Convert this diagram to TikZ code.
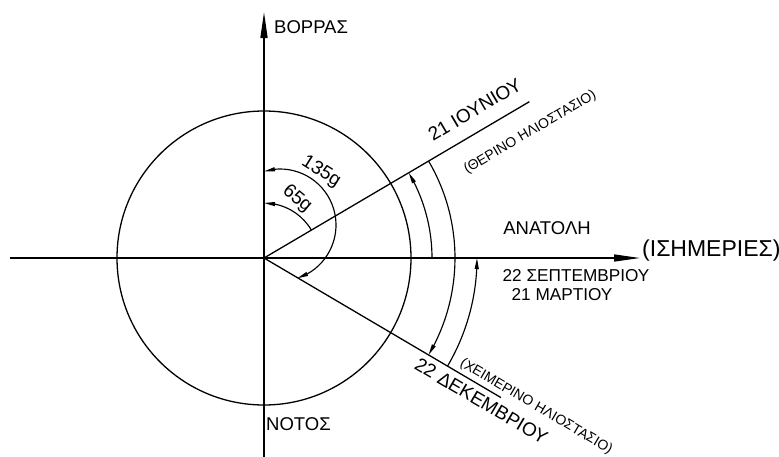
\documentclass[tikz,border=0pt]{standalone}
\usepackage{fontspec}
\setmainfont{Liberation Sans}
\usetikzlibrary{arrows.meta,bending,calc}
\begin{document}
\begin{tikzpicture}[x=1pt,y=1pt,
  ln/.style={line width=1.3pt},
  axisline/.style={line width=1.3pt,-{Triangle[length=26pt,width=7pt]}},
  dimarc/.style={line width=1.15pt},
  >={Triangle[length=11pt,width=4pt]},
  lbl/.style={inner sep=0pt,font=\fontsize{18.5}{20}\selectfont},
  lblbig/.style={inner sep=0pt,font=\fontsize{23}{25}\selectfont},
  lblmid/.style={inner sep=0pt,font=\fontsize{17.2}{19}\selectfont},
  lblang/.style={inner sep=0pt,font=\fontsize{19}{21}\selectfont},
  lblsmall/.style={inner sep=0pt,font=\fontsize{14}{16}\selectfont}]
\useasboundingbox (0,0) rectangle (779,-456);
% key points
\coordinate (O) at (264,-258);
\coordinate (W) at (10,-258);
\coordinate (E) at (640,-258);
\coordinate (S) at (264,-460);
\coordinate (N) at (264,-12);
\coordinate (SU) at ($(O)+(30.5:308)$);
\coordinate (WI) at ($(O)+(-30.5:275)$);
\coordinate (C2) at (280,-225);
% axes
\draw[axisline] (W) -- (E);
\draw[axisline] (S) -- (N);
% circle
\draw[ln] (O) circle[radius=147];
% solstice lines
\draw[ln] (O) -- (SU);
\draw[ln] (O) -- (WI);
% dimension arcs on the right
\draw[dimarc,->] ($(O)+(0:168)$) arc[start angle=0,end angle=30.5,radius=168];
\draw[dimarc,->] ($(O)+(30.5:191)$) arc[start angle=30.5,end angle=-30.5,radius=191];
\draw[dimarc,->] ($(O)+(-30.5:213)$) arc[start angle=-30.5,end angle=0,radius=213];
% angle arcs near centre
\draw[dimarc,->] ($(O)+(30.5:55)$) arc[start angle=30.5,end angle=90,radius=55];
\draw[dimarc,<->] ($(C2)+(106.6:56)$) arc[start angle=106.6,end angle=-72.1,radius=56];
% labels
\node[lbl,anchor=west] (north) at (274,-27) {ΒΟΡΡΑΣ};
\node[lbl,anchor=west] (south) at (266,-424) {ΝΟΤΟΣ};
\node[lbl] (east) at (547,-228) {ΑΝΑΤΟΛΗ};
\node[lblbig,anchor=west] (equi) at (642,-251) {(ΙΣΗΜΕΡΙΕΣ)};
\node[lblmid] (sept) at (576,-276) {22 ΣΕΠΤΕΜΒΡΙΟΥ};
\node[lblmid] (mar) at (562,-295) {21 ΜΑΡΤΙΟΥ};
\node[lblang,rotate=30.5] (june) at ($(O)+(30.5:257)+(120.5:21)$) {21 ΙΟΥΝΙΟΥ};
\node[lblsmall,rotate=30.5] (summer) at ($(O)+(30.5:293)+(-59.5:27)$) {(ΘΕΡΙΝΟ ΗΛΙΟΣΤΑΣΙΟ)};
\node[lblang,rotate=-30.5] (dec) at ($(O)+(-30.5:260)+(-120.5:13)$) {22 ΔΕΚΕΜΒΡΙΟΥ};
\node[lblsmall,rotate=-30.5] (winter) at ($(O)+(-30.5:310)+(59.5:10)$) {(ΧΕΙΜΕΡΙΝΟ ΗΛΙΟΣΤΑΣΙΟ)};
\node[lblang,rotate=-32] (a135) at (321,-172) {135g};
\node[lblang,rotate=-40] (a65) at (297,-199) {65g};
\end{tikzpicture}
\end{document}
